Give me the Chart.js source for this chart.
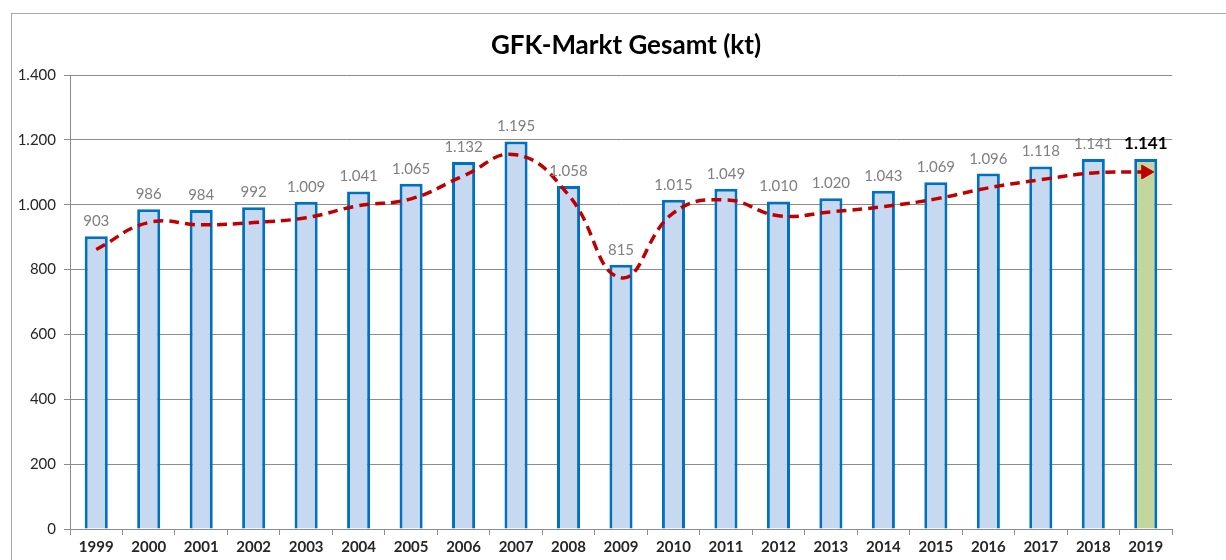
<!DOCTYPE html>
<html>
<head>
<meta charset="utf-8">
<script src="https://cdn.jsdelivr.net/npm/chart.js@4"></script>
<style>
  html, body { margin: 0; padding: 0; background: #fff; overflow: hidden; }
  #wrap { position: relative; width: 1226px; height: 560px; }
  #frame { position: absolute; left: 11px; top: 13px; width: 1400px; height: 700px; border: 1px solid #a6a6a6; }
  #c { position: absolute; left: 0; top: 0; }
  #title { position: absolute; left: 426px; width: 400px; top: 28px; text-align: center;
           font: bold 26px Lato, sans-serif; color: #000; line-height: 32px; }
</style>
</head>
<body>
<div id="wrap">
  <div id="frame"></div>
  <canvas id="c" width="1226" height="560"></canvas>
  <div id="title">GFK-Markt Gesamt (kt)</div>
</div>
<script>
const YEARS  = ['1999','2000','2001','2002','2003','2004','2005','2006','2007','2008','2009',
                '2010','2011','2012','2013','2014','2015','2016','2017','2018','2019'];
const MARKET = [903, 986, 984, 992, 1009, 1041, 1065, 1132, 1195, 1058, 815,
                1015, 1049, 1010, 1020, 1043, 1069, 1096, 1118, 1141, 1141];
// red dashed trend
const TREND  = [862, 945, 938, 945, 960, 997, 1018, 1089, 1154, 1030, 775,
                975, 1015, 966, 978, 994, 1018, 1052, 1077, 1098, 1101];
const Y_TICKS = [0, 200, 400, 600, 800, 1000, 1200, 1400];

const BLUE_FILL  = '#c6d9f1';
const GREEN_FILL = '#c3d69b';
const BAR_EDGE   = '#0070c0';
const TREND_RED  = '#c00000';
const GRID       = '#8c8c8c';

function de(n) {
  return String(n).replace(/\B(?=(\d{3})+(?!\d))/g, '.');
}

// value labels above bars (dataset 1 = bars)
const barLabels = {
  id: 'barLabels',
  afterDatasetsDraw(chart) {
    const ctx  = chart.ctx;
    const meta = chart.getDatasetMeta(1);
    ctx.save();
    ctx.textAlign = 'center';
    ctx.textBaseline = 'alphabetic';
    meta.data.forEach((bar, i) => {
      const last = i === MARKET.length - 1;
      ctx.font = last ? 'bold 17px Lato' : '15px Lato';
      ctx.fillStyle = last ? '#000' : '#7f7f7f';
      ctx.fillText(de(MARKET[i]), bar.x, bar.y - 10);
    });
    ctx.restore();
  }
};

const n = TREND.length;
new Chart(document.getElementById('c'), {
  data: {
    labels: YEARS,
    datasets: [
      {
        type: 'line',
        data: TREND,
        borderColor: TREND_RED,
        borderWidth: 3.5,
        borderDash: [10, 6],
        tension: 0.45,
        fill: false,
        pointRadius: TREND.map((_, i) => i === n - 1 ? 8 : 0),
        pointStyle: 'triangle',
        pointRotation: 90,
        pointBackgroundColor: TREND_RED,
        pointBorderColor: TREND_RED,
        pointBorderWidth: 1,
        order: 0
      },
      {
        type: 'bar',
        data: MARKET,
        backgroundColor: MARKET.map((_, i) => i === MARKET.length - 1 ? GREEN_FILL : BLUE_FILL),
        borderColor: BAR_EDGE,
        borderWidth: 3,
        barPercentage: 0.44,
        categoryPercentage: 1,
        order: 1
      }
    ]
  },
  options: {
    responsive: false,
    devicePixelRatio: 1,
    animation: false,
    layout: { padding: { left: 0, right: 54, top: 75, bottom: 0 } },
    plugins: {
      legend: { display: false },
      tooltip: { enabled: false },
      title: { display: false }
    },
    scales: {
      x: {
        grid: { offset: true, drawOnChartArea: false, drawTicks: true, tickLength: 6, color: GRID },
        border: { color: GRID, width: 1 },
        ticks: { color: '#262626', font: { family: 'Lato', size: 15, weight: 'bold' }, padding: 3 },
        afterFit(s) { s.height = 31; }
      },
      y: {
        min: 0,
        max: 1400,
        afterBuildTicks(s) { s.ticks = Y_TICKS.map(v => ({ value: v })); },
        grid: { color: GRID, tickLength: 6, lineWidth: 1 },
        border: { color: GRID, width: 1 },
        ticks: { color: '#262626', font: { family: 'Lato', size: 15 }, padding: 8, callback: v => de(v) },
        afterFit(s) { s.width = 70; }
      }
    }
  },
  plugins: [barLabels]
});
</script>
</body>
</html>
